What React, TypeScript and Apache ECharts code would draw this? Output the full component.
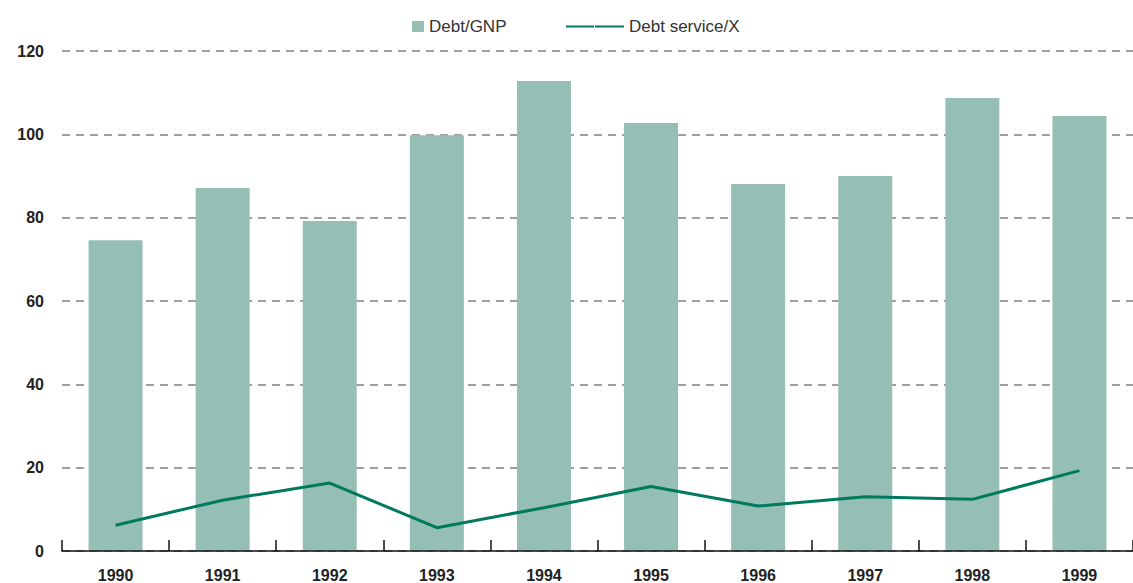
import React, { useEffect, useRef } from "react";
import * as echarts from "echarts";

const years = ["1990", "1991", "1992", "1993", "1994", "1995", "1996", "1997", "1998", "1999"];
const debtGnp = [74.6, 87.1, 79.2, 99.8, 112.8, 102.7, 88.1, 90.0, 108.7, 104.4];
const debtServiceX = [6.2, 12.2, 16.3, 5.6, 10.4, 15.5, 10.8, 13.0, 12.4, 19.3];
const yTicks = { min: 0, max: 120, interval: 20 };

const BAR_COLOR = "#95bfb4";
const LINE_COLOR = "#007a5e";

export default function App() {
  const ref = useRef<HTMLDivElement>(null);
  useEffect(() => {
    if (!ref.current) return;
    const chart = echarts.init(ref.current, undefined, { renderer: "svg" });
    chart.setOption({
      animation: false,
      backgroundColor: "#ffffff",
      textStyle: { fontFamily: "Liberation Sans, Arial, sans-serif" },
      legend: [
        {
          data: [{ name: "Debt/GNP", icon: "rect" }],
          left: 407,
          top: 13,
          itemWidth: 12,
          itemHeight: 11,
          textStyle: { fontSize: 17, color: "#333" },
        },
        {
          data: [{ name: "Debt service/X", icon: "path://M0,0H28V2H0Z M29,0H58V2H29Z" }],
          left: 561,
          top: 13,
          itemWidth: 58,
          itemHeight: 2,
          itemStyle: { color: LINE_COLOR },
          textStyle: { fontSize: 17, color: "#333" },
        },
      ],
      grid: { left: 62, right: 0, top: 51, bottom: 32, containLabel: false },
      xAxis: {
        type: "category",
        data: years,
        z: 5,
        axisLine: { lineStyle: { color: "#111", width: 1.5 } },
        axisTick: { show: true, inside: true, length: 11, lineStyle: { color: "#111", width: 1.5 } },
        axisLabel: { fontSize: 16, fontWeight: "bold", color: "#222", margin: 16 },
      },
      yAxis: {
        type: "value",
        min: yTicks.min,
        max: yTicks.max,
        interval: yTicks.interval,
        axisLine: { show: false },
        axisTick: { show: false },
        axisLabel: { fontSize: 16, fontWeight: "bold", color: "#222", margin: 18 },
        splitLine: { lineStyle: { color: "#808080", type: [8, 6], width: 1.5 } },
      },
      series: [
        {
          name: "Debt/GNP",
          type: "bar",
          data: debtGnp,
          barWidth: 54,
          itemStyle: { color: BAR_COLOR },
        },
        {
          name: "Debt service/X",
          type: "line",
          data: debtServiceX,
          showSymbol: false,
          symbol: "none",
          lineStyle: { color: LINE_COLOR, width: 3 },
          itemStyle: { color: LINE_COLOR },
        },
      ],
    });
    return () => chart.dispose();
  }, []);
  return (
    <div
      ref={ref}
      style={{ position: "fixed", left: 0, top: 0, width: 1133, height: 583 }}
    />
  );
}
